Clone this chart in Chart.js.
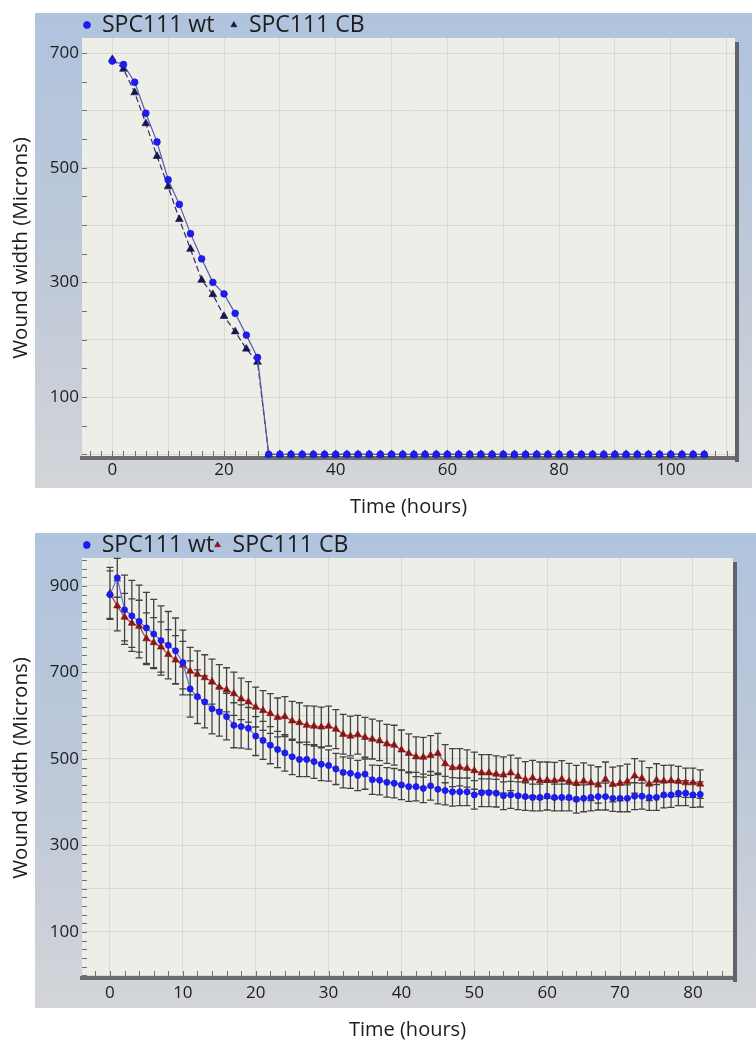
<!DOCTYPE html>
<html>
<head>
<meta charset="utf-8">
<script src="https://cdn.jsdelivr.net/npm/chart.js@4.4.1/dist/chart.umd.min.js"></script>
<style>
  html, body { margin: 0; padding: 0; background: #ffffff; }
  #wrap { position: relative; width: 756px; height: 1042px; overflow: hidden; }
  .box { position: absolute; left: 0; width: 756px; }
  #b1 { top: 0; height: 520px; }
  #b2 { top: 520px; height: 522px; }
</style>
</head>
<body>
<div id="wrap">
  <div class="box" id="b1"><canvas id="c1"></canvas></div>
  <div class="box" id="b2"><canvas id="c2"></canvas></div>
</div>
<script>
// ---------- data ----------
const seriesNames = ['SPC111 wt', 'SPC111 CB'];
const xTitle = 'Time (hours)';
const yTitle = 'Wound width (Microns)';

// top chart
const timeTop = [0,2,4,6,8,10,12,14,16,18,20,22,24,26,28,30,32,34,36,38,40,42,44,46,48,50,52,54,56,58,60,62,64,66,68,70,72,74,76,78,80,82,84,86,88,90,92,94,96,98,100,102,104,106];
const wtTop = [686,680,649,595,545,479,436,385,341,300,280,246,208,169,
  0,0,0,0,0,0,0,0,0,0, 0,0,0,0,0,0,0,0,0,0, 0,0,0,0,0,0,0,0,0,0, 0,0,0,0,0,0,0,0,0,0];
const cbTop = [689,672,631,577,520,467,410,358,304,279,241,214,184,161,
  0,0,0,0,0,0,0,0,0,0, 0,0,0,0,0,0,0,0,0,0, 0,0,0,0,0,0,0,0,0,0, 0,0,0,0,0,0,0,0,0,0];
const xTicksTop = [0,20,40,60,80,100];
const yTicksTop = [100,300,500,700];

// bottom chart
const timeBottom = [0,1,2,3,4,5,6,7,8,9,10,11,12,13,14,15,16,17,18,19,20,21,22,23,24,25,26,27,28,29,30,31,32,33,34,35,36,37,38,39,40,41,42,43,44,45,46,47,48,49,50,51,52,53,54,55,56,57,58,59,60,61,62,63,64,65,66,67,68,69,70,71,72,73,74,75,76,77,78,79,80,81];
const wtBottom = [880,919,845,831,818,803,789,774,763,750,
  723,662,644,632,616,609,598,578,575,571,
  553,543,532,522,514,505,499,499,494,488,
  485,477,469,467,462,465,452,451,446,444,
  440,436,436,432,438,430,427,424,424,424,
  417,422,422,421,415,417,415,413,411,411,
  414,411,411,411,407,409,411,413,413,409,
  409,409,414,414,411,411,417,417,421,421,
  417,418];
const wtBottomErr = [55,45,80,82,84,82,80,80,78,76,
  75,65,62,60,58,56,54,52,50,48,
  45,44,43,42,42,41,40,40,39,38,
  36,36,36,35,35,35,34,34,34,34,
  34,34,33,33,33,34,33,33,32,32,
  33,32,32,32,32,31,32,32,31,31,
  32,31,31,31,32,31,31,31,31,30,
  31,31,31,30,30,30,30,29,29,29,
  29,29];
const cbBottom = [883,854,828,814,807,778,769,759,742,729,
  717,703,696,688,679,666,660,651,639,632,
  620,612,605,596,598,588,584,578,576,574,
  576,569,557,553,556,550,546,542,535,532,
  521,513,505,504,508,513,489,480,481,478,
  473,468,468,465,463,468,460,452,456,450,
  451,450,453,448,444,449,445,440,453,441,
  444,448,461,455,442,451,449,450,448,445,
  445,442];
const cbBottomErr = [60,58,55,56,60,60,58,58,57,56,
  55,55,54,53,52,52,51,50,48,47,
  46,46,46,45,46,45,46,45,46,46,
  46,45,46,46,45,46,46,46,45,46,
  46,45,46,46,46,46,44,44,43,43,
  43,42,42,42,42,41,42,42,41,43,
  42,42,43,42,41,42,41,42,40,40,
  40,40,40,40,38,38,36,36,35,34,
  34,33];
const xTicksBottom = [0,10,20,30,40,50,60,70,80];
const yTicksBottom = [100,300,500,700,900];

// ---------- styling helpers ----------
const FONT = "'Open Sans', 'Noto Sans', sans-serif";
const TXT = '#1c1c1c';
const GRID = '#dadad2';

function pts(xs, ys) { return xs.map((x, i) => ({ x: x, y: ys[i] })); }

function panelPlugin(cfg) {
  return {
    id: 'panel',
    beforeDraw(chart) {
      const { ctx, chartArea: a } = chart;
      ctx.save();
      const g = ctx.createLinearGradient(0, cfg.top, 0, cfg.bottom);
      g.addColorStop(0, '#b0c3de');
      g.addColorStop(0.55, '#bfc9d8');
      g.addColorStop(1, '#d3d5d9');
      ctx.fillStyle = g;
      ctx.fillRect(cfg.left, cfg.top, cfg.right - cfg.left, cfg.bottom - cfg.top);
      ctx.fillStyle = '#eeeee9';
      ctx.fillRect(a.left, a.top, a.right - a.left, a.bottom - a.top);
      ctx.restore();
    },
    afterLayout(chart) {
      const lg = chart.legend;
      if (!lg) return;
      const w = lg.right - lg.left;
      lg.left = cfg.legendX - cfg.legendPad;
      lg.right = lg.left + w;
      lg.width = w;
      lg.top = cfg.legendCY - cfg.legendPad - cfg.legendFont / 2;
      lg.bottom = cfg.legendCY + cfg.legendFont;
      lg.height = lg.bottom - lg.top;
    },
    beforeDatasetsDraw(chart) {
      const { ctx, chartArea: a, scales: { x: xs, y: ys } } = chart;
      ctx.save();
      ctx.strokeStyle = '#707070';
      ctx.lineWidth = 1;
      ctx.beginPath();
      xs.ticks.forEach(t => {
        const px = Math.round(xs.getPixelForValue(t.value)) + 0.5;
        ctx.moveTo(px, a.bottom - 2);
        ctx.lineTo(px, a.bottom - 7);
      });
      ys.ticks.forEach(t => {
        const py = Math.round(ys.getPixelForValue(t.value)) + 0.5;
        ctx.moveTo(a.left, py);
        ctx.lineTo(a.left + 5, py);
      });
      ctx.stroke();
      if (cfg.errors) {
        ctx.strokeStyle = 'rgba(45,45,45,0.9)';
        ctx.lineWidth = 1.3;
        ctx.beginPath();
        cfg.errors.forEach(er => {
          er.x.forEach((xv, i) => {
            const px = xs.getPixelForValue(xv);
            const y1 = ys.getPixelForValue(er.y[i] + er.e[i]);
            const y2 = ys.getPixelForValue(er.y[i] - er.e[i]);
            ctx.moveTo(px, y1); ctx.lineTo(px, y2);
            ctx.moveTo(px - 3.5, y1); ctx.lineTo(px + 3.5, y1);
            ctx.moveTo(px - 3.5, y2); ctx.lineTo(px + 3.5, y2);
          });
        });
        ctx.stroke();
      }
      ctx.restore();
    },
    afterDraw(chart) {
      const { ctx, chartArea: a } = chart;
      ctx.save();
      ctx.fillStyle = '#5f636b';
      ctx.fillRect(a.right, a.top + 4, 4, a.bottom - a.top);
      ctx.restore();
    }
  };
}

function makeChart(id, opt) {
  return new Chart(document.getElementById(id), {
    type: 'line',
    data: { datasets: opt.datasets },
    options: {
      responsive: true,
      maintainAspectRatio: false,
      animation: false,
      layout: { padding: { top: 13, left: 0, right: opt.padRight, bottom: 0 } },
      plugins: {
        tooltip: { enabled: false },
        legend: {
          display: true,
          position: 'top',
          align: 'start',
          maxHeight: 25,
          labels: {
            usePointStyle: true,
            pointStyleWidth: 7,
            boxWidth: 7,
            boxHeight: 5,
            padding: opt.legendPad,
            color: TXT,
            font: { family: FONT, size: 23 }
          }
        }
      },
      scales: {
        x: {
          type: 'linear',
          min: opt.xMin, max: opt.xMax,
          afterFit(s) { s.height = opt.xAxisH; },
          border: { display: true, color: '#6c6c6c', width: 4 },
          grid: {
            drawTicks: false,
            color: c => (c.tick && c.tick.value % opt.xGrid === 0) ? GRID : 'rgba(0,0,0,0)',
            lineWidth: 1
          },
          ticks: {
            stepSize: opt.xStep,
            autoSkip: false,
            maxRotation: 0,
            includeBounds: false,
            padding: opt.xTickPad,
            color: TXT,
            font: { family: FONT, size: 17 },
            callback: v => opt.xTicks.includes(v) ? String(v) : ''
          },
          title: {
            display: true, text: xTitle, color: TXT,
            font: { family: FONT, size: 20 },
            padding: { top: 0, bottom: opt.xTitlePad }
          }
        },
        y: {
          type: 'linear',
          min: opt.yMin, max: opt.yMax,
          afterFit(s) { s.width = 82; },
          border: { display: false },
          grid: {
            drawTicks: false,
            color: c => (c.tick && c.tick.value % 100 === 0) ? GRID : 'rgba(0,0,0,0)',
            lineWidth: 1
          },
          ticks: {
            stepSize: opt.yStep,
            autoSkip: false,
            includeBounds: false,
            padding: 3,
            color: TXT,
            font: { family: FONT, size: 17 },
            callback: v => opt.yTicks.includes(v) ? String(v) : ''
          },
          title: {
            display: true, text: yTitle, color: TXT,
            font: { family: FONT, size: 20.5 },
            padding: { top: 9, bottom: 0 }
          }
        }
      }
    },
    plugins: [panelPlugin(opt.panel)]
  });
}

// ---------- top chart ----------
makeChart('c1', {
  padRight: 21,
  legendPad: 16,
  xMin: -5.43, xMax: 111.5, xStep: 2, xGrid: 10, xTicks: xTicksTop, xAxisH: 62, xTickPad: 2, xTitlePad: 1,
  yMin: -6.3, yMax: 726.2, yStep: 50, yTicks: yTicksTop,
  panel: { left: 35, top: 13, right: 752, bottom: 488, legendX: 83.5, legendCY: 25, legendPad: 16, legendFont: 23 },
  datasets: [
    {
      label: seriesNames[0],
      data: pts(timeTop, wtTop),
      borderColor: '#5a5aa8', borderWidth: 1.2,
      pointStyle: 'circle', pointRadius: 3.4,
      pointBackgroundColor: '#1c1cf5', pointBorderColor: '#1414c8', pointBorderWidth: 0.6,
      clip: false, tension: 0
    },
    {
      label: seriesNames[1],
      data: pts(timeTop, cbTop),
      borderColor: '#2c2c6c', borderWidth: 1.2, borderDash: [6, 3],
      pointStyle: 'triangle', pointRadius: 4.5,
      pointBackgroundColor: '#16164f', pointBorderColor: '#16164f', pointBorderWidth: 0.6,
      clip: false, tension: 0
    }
  ]
});

// ---------- bottom chart ----------
makeChart('c2', {
  padRight: 23,
  legendPad: 0,
  xMin: -3.84, xMax: 85.5, xStep: 2, xGrid: 10, xTicks: xTicksBottom, xAxisH: 64, xTickPad: 5, xTitlePad: 0,
  yMin: -6.4, yMax: 964.7, yStep: 20, yTicks: yTicksBottom,
  panel: {
    left: 35, top: 13, right: 756, bottom: 488, legendX: 83.2, legendCY: 25, legendPad: 0, legendFont: 23,
    errors: [
      { x: timeBottom, y: wtBottom, e: wtBottomErr },
      { x: timeBottom, y: cbBottom, e: cbBottomErr }
    ]
  },
  datasets: [
    {
      label: seriesNames[0],
      data: pts(timeBottom, wtBottom),
      borderColor: '#6a6ad8', borderWidth: 1.2,
      pointStyle: 'circle', pointRadius: 3.1,
      pointBackgroundColor: '#1c1cf5', pointBorderColor: '#1414d0', pointBorderWidth: 0.6,
      clip: false, tension: 0
    },
    {
      label: seriesNames[1],
      data: pts(timeBottom, cbBottom),
      borderColor: '#a04a4a', borderWidth: 1.2,
      pointStyle: 'triangle', pointRadius: 4.2,
      pointBackgroundColor: '#8a1515', pointBorderColor: '#8a1515', pointBorderWidth: 0.6,
      clip: false, tension: 0
    }
  ]
});
</script>
</body>
</html>
